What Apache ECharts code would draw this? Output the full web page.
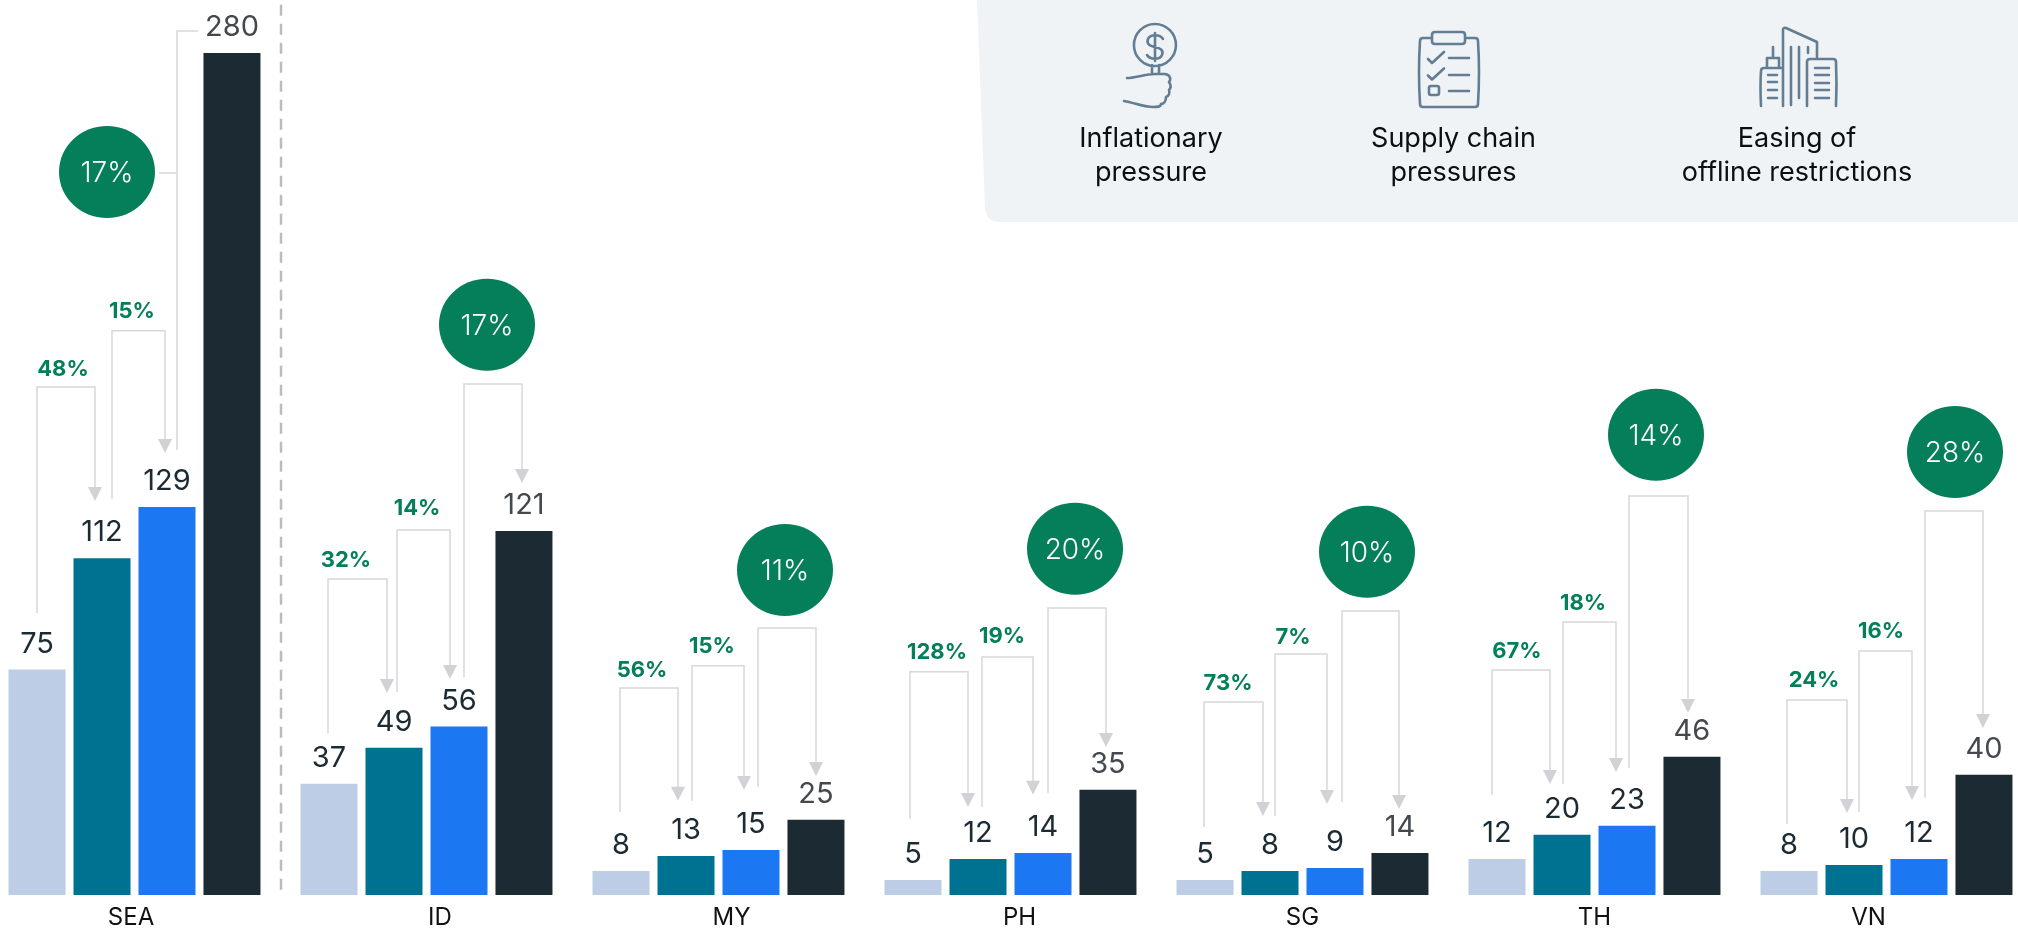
<!DOCTYPE html>
<html><head><meta charset="utf-8">
<style>html,body{margin:0;padding:0;background:#fff}#c{width:2018px;height:929px}</style>
<script src="https://cdn.jsdelivr.net/npm/echarts@6/dist/echarts.min.js"></script>
</head><body><div id="c"></div>
<script>
const categories = ['SEA','ID','MY','PH','SG','TH','VN'];
const barsA = [75,37,8,5,5,12,8];
const barsB = [112,49,13,12,8,20,10];
const barsC = [129,56,15,14,9,23,12];
const barsD = [280,121,25,35,14,46,40];
const growthAB = ['48%','32%','56%','128%','73%','67%','24%'];
const growthBC = ['15%','14%','15%','19%','7%','18%','16%'];
const growthCD = ['17%','17%','11%','20%','10%','14%','28%'];
const panelTexts = [['Inflationary','pressure'],['Supply chain','pressures'],['Easing of','offline restrictions']];

// Connector layout: x offsets in px from category centre, levels in axis units.
// [dxStart, dxEnd, startLevel, topLevel, tipLevel, dxLabel, labelLevel]
const layoutAB = [
 [-97.5,-39.5,93.8,168.9,131.0,-71.5,174.9],[-98.5,-39.5,53.9,105.1,67.2,-80.5,111.1],
 [-98.5,-40.5,27.6,68.8,31.3,-76.5,74.8],[-100.5,-42.5,25.3,74.2,29.3,-73.5,80.8],
 [-98.5,-39.5,22.6,64.2,26.3,-74.5,70.2],[-102.5,-44.5,33.3,74.8,36.9,-77.5,81.1],
 [-99.5,-39.5,23.6,64.8,27.3,-72.5,71.2]];
const layoutBC = [
 [-22.5,30.5,131.7,187.6,147.0,-2.5,193.9],[-29.5,23.5,67.5,121.4,71.8,-9.5,128.7],
 [-26.5,25.5,31.3,76.2,34.9,-6.5,82.5],[-28.5,22.5,29.3,79.1,33.3,-8.5,86.1],
 [-27.5,24.5,26.3,80.1,30.3,-9.5,85.8],[-31.5,21.5,36.9,90.8,40.9,-11.5,97.1],
 [-27.5,25.5,27.6,81.1,31.6,-5.5,87.8]];
const layoutCD = [
 [42.5,63.5,148.0,287.3,null,-27.5,240.4],[37.5,95.5,72.5,169.9,137.0,60.5,189.6],
 [39.5,97.5,35.9,88.8,39.6,66.5,108.1],[37.5,95.5,33.9,95.4,49.2,64.5,115.1],
 [39.5,96.5,30.9,94.4,28.6,64.5,114.1],[34.5,93.5,42.2,132.7,60.5,61.5,153.0],
 [38.5,96.5,32.3,127.7,55.5,68.5,147.3]];
const labelShift = [-3.5,13.5,13,9,0,0,-18];

const FONT = 'Inter, "Open Sans", sans-serif';
const DARK = '#1c2b33', GREY = '#444950', GREEN = '#047f5a', LINE = '#d6d8da', ARROW = '#d0d2d5', ICON = '#637d93';

const rows = [];
categories.forEach((c,i)=>{
  rows.push({cat:i,kind:'step',l:layoutAB[i],t:growthAB[i]});
  rows.push({cat:i,kind:'step',l:layoutBC[i],t:growthBC[i]});
  rows.push({cat:i,kind:'total',l:layoutCD[i],t:growthCD[i]});
});

function renderNote(params, api){
  const r = rows[params.dataIndex], L = r.l;
  const cx = api.coord([r.cat,0])[0];
  const y = v => api.coord([r.cat,v])[1];
  const x1 = cx+L[0], x2 = cx+L[1];
  const kids = [];
  const pts = L[4]===null
    ? [[x1,y(L[2])],[x1,y(L[3])],[x2,y(L[3])]]
    : [[x1,y(L[2])],[x1,y(L[3])],[x2,y(L[3])],[x2,y(L[4])-10]];
  kids.push({type:'polyline',shape:{points:pts},style:{stroke:LINE,lineWidth:1.5,fill:null}});
  if(L[4]!==null){
    const tip = y(L[4]);
    kids.push({type:'polygon',shape:{points:[[x2-7,tip-14],[x2+7,tip-14],[x2,tip]]},style:{fill:ARROW}});
  }
  const tx = cx+L[5], ty = y(L[6]);
  if(r.kind==='total'){
    if(L[4]===null){
      kids.push({type:'line',shape:{x1:tx+52,y1:ty+1,x2:x1,y2:ty+1},style:{stroke:LINE,lineWidth:1.5}});
    }
    kids.push({type:'ellipse',shape:{cx:tx,cy:ty,rx:48,ry:46},style:{fill:GREEN}});
    kids.push({type:'text',style:{text:r.t,x:tx,y:ty+2,fill:'#fff',font:'300 28px '+FONT,textAlign:'center',textVerticalAlign:'middle'}});
  } else {
    kids.push({type:'text',style:{text:r.t,x:tx,y:ty,fill:GREEN,font:'700 22px '+FONT,textAlign:'center',textVerticalAlign:'middle'}});
  }
  return {type:'group',children:kids};
}

function renderDivider(params, api){
  const p0 = api.coord([0,296]), p1 = api.coord([0,-0.7]);
  const x = p0[0]+api.size([1,0])[0]/2+0.5;
  return {type:'line',shape:{x1:x,y1:p0[1],x2:x,y2:p1[1]},style:{stroke:'#bcbcbc',lineWidth:2.5,lineDash:[11,8]}};
}

const rich = {};
labelShift.forEach((s,i)=>{
  rich['s'+i] = {fontFamily:FONT,fontSize:24,color:'#111',padding:s>=0?[0,0,0,2*s]:[0,-2*s,0,0]};
});

function barSeries(name,data,color,labelColor){
  return {name,type:'bar',data,barWidth:57,barGap:'14%',itemStyle:{color},
    label:{show:true,position:'top',distance:11,color:labelColor,fontFamily:FONT,fontSize:29,fontWeight:400}};
}

const stroke = {stroke:ICON,lineWidth:2.6,fill:null,lineCap:'round',lineJoin:'round'};
const panelPath = 'M977,0 L985,208 Q986,222 1000,222 L2018,222 L2018,0 Z';
const iconPaths = [
 // hand holding a coin
 'M1155,24 A21,21 0 1 1 1154.9,24 Z M1163,39 C1160,34 1150,34 1148,39 C1146,45 1151,46 1155,47 C1160,48 1164,50 1162,55 C1160,60 1150,60 1147,55 M1155,33 L1155,61 M1152,65 L1152,74 M1159,65 L1159,74 M1127,78 C1135,78 1145,74 1155,74 L1165,74 C1171,75 1171,80 1169,82 C1171,85 1171,88 1169,90 C1170,93 1169,96 1166,97 C1166,101 1164,104 1161,104 C1161,107 1157,107 1153,107 C1143,107 1135,103 1124,101',
 // clipboard
 'M1432,38 L1423,38 Q1420,38 1420,41 Q1418,72 1420,104 Q1420,107 1423,107 L1475,107 Q1478,107 1478,104 Q1480,72 1478,41 Q1478,38 1475,38 L1465,38 M1435,32 L1462,32 Q1465,32 1465,35 L1465,41 Q1465,44 1462,44 L1435,44 Q1432,44 1432,41 L1432,35 Q1432,32 1435,32 Z M1428,59 L1432,63 L1444,52 M1428,75.5 L1432,79.5 L1444,68.5 M1431,86 L1437,86 Q1439,86 1439,88 L1439,93 Q1439,95 1437,95 L1431,95 Q1429,95 1429,93 L1429,88 Q1429,86 1431,86 Z M1449,58 L1469,58 M1449,75 L1469,75 M1449,91 L1469,91',
 // buildings
 'M1783,106 L1783,30 Q1783,27 1786,28 L1817,42 L1817,57 M1791,47 L1791,105 M1799,47 L1799,98 M1808,47 L1808,53 M1807,106 L1807,62 Q1807,59 1810,59 L1833,59 Q1836,59 1836,62 Q1837,85 1836,106 M1815,68 L1829,68 M1815,75 L1829,75 M1815,83 L1829,83 M1815,90 L1829,90 M1815,98 L1829,98 M1761,106 Q1760,85 1761,71 Q1761,68 1764,68 L1783,68 M1767,67 L1767,58 L1779,58 L1779,67 M1773,47 L1773,58 M1768,75 L1777,75 M1768,82 L1777,82 M1768,90 L1777,90 M1768,98 L1777,98'
];
const panelCentres = [1151,1453.5,1797];
const panelLines = [138.5,172.5];
const graphics = [];
panelTexts.forEach((pair,i)=>pair.forEach((t,j)=>graphics.push({type:'text',z:10,silent:true,
  style:{text:t,x:panelCentres[i],y:panelLines[j],fill:'#0b0f12',font:'400 27px '+FONT,textAlign:'center',textVerticalAlign:'middle'}})));

function renderPanel(){
  return {type:'group',children:[
    {type:'path',shape:{pathData:panelPath},style:{fill:'#eff3f6'}}
  ].concat(iconPaths.map(p=>({type:'path',shape:{pathData:p},style:stroke})))};
}

const chart = echarts.init(document.getElementById('c'),null,{renderer:'canvas'});
chart.setOption({
  animation:false,
  backgroundColor:'#fff',
  tooltip:{show:false},
  legend:{show:false},
  grid:{left:-11.5,top:0,width:2044,height:895,containLabel:false,outerBoundsMode:'none'},
  xAxis:{type:'category',data:categories,axisLine:{show:false},axisTick:{show:false},
    axisLabel:{show:true,margin:11,interval:0,formatter:(v,i)=>'{s'+i+'|'+v+'}',rich}},
  yAxis:{type:'value',min:0,max:297.6,show:false,splitLine:{show:false}},
  graphic:graphics,
  series:[
    {type:'custom',name:'panel',renderItem:renderPanel,clip:false,z:0,silent:true,data:[[0,0]],encode:{x:0,y:1}},
    barSeries('A',barsA,'#bccde5',DARK),
    barSeries('B',barsB,'#007291',DARK),
    barSeries('C',barsC,'#1c78f2',DARK),
    barSeries('D',barsD,DARK,GREY),
    {type:'custom',name:'connectors',renderItem:renderNote,clip:false,z:5,silent:true,
      data:rows.map(r=>[r.cat,r.l[3]]),encode:{x:0,y:1}},
    {type:'custom',name:'divider',renderItem:renderDivider,clip:false,z:4,silent:true,
      data:[[0,0]],encode:{x:0,y:1}}
  ]
});
</script></body></html>
